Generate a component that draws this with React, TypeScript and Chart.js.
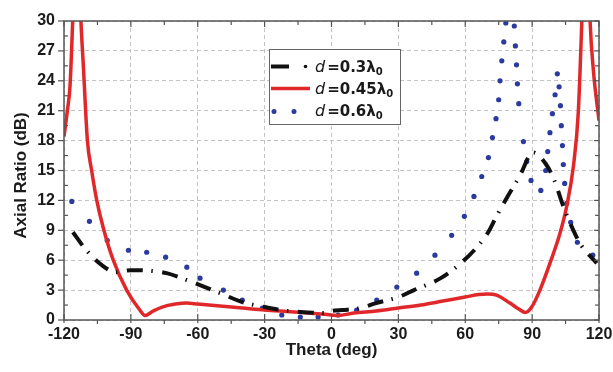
import React, { useEffect, useRef } from "react";
import { Chart, registerables } from "chart.js";
Chart.register(...registerables);

// ---------- data ----------
const thetaTicks = [-120, -90, -60, -30, 0, 30, 60, 90, 120];
const arTicks = [0, 3, 6, 9, 12, 15, 18, 21, 24, 27, 30];
const legendValues = ["0.3", "0.45", "0.6"];
const xTitle = "Theta (deg)";
const yTitle = "Axial Ratio (dB)";

// d = 0.45 lambda0 (red solid)
const redTheta = [-120, -118.5, -117.3, -116.1, -115, -114.3, -113.5, -112.4, -111.3, -109.5, -107.6, -105.3, -102.1, -97.9, -91.9, -86, -83.7, -80, -76, -70, -65, -60, -50, -40, -30, -20, -10, 0, 3, 10, 20, 30, 40, 50, 60, 66, 70, 74, 80, 84, 87, 89.8, 93.5, 98, 102.5, 105.5, 108.5, 110.7, 112.3, 113.3, 114.2, 115.1, 116, 117.5, 120];
const redAR = [18.4, 21, 23.5, 30, 37, 40, 37, 30, 25.4, 18, 15, 12, 9, 6, 3, 1.0, 0.45, 0.9, 1.3, 1.6, 1.7, 1.6, 1.4, 1.2, 1.0, 0.85, 0.7, 0.5, 0.45, 0.7, 0.9, 1.2, 1.5, 1.9, 2.3, 2.55, 2.6, 2.5, 1.7, 1.1, 0.75, 1.3, 3.0, 5.7, 8.7, 11.4, 15.4, 20.8, 30, 37, 40, 37, 30, 25, 20];

// d = 0.3 lambda0 (black dash-dot)
const blackTheta = [-116, -110, -103, -97, -90, -82, -74, -66, -59, -50, -40, -30, -23, -14, -2, 0, 5, 13, 20, 30, 37, 49, 58, 64, 70, 74, 79, 85, 89, 90.5, 96, 100, 104, 108.5, 112, 119];
const blackAR = [8.8, 7.0, 5.5, 4.8, 5.0, 4.95, 4.7, 4.1, 3.5, 2.7, 1.8, 1.3, 1.0, 0.8, 0.7, 0.9, 1.0, 1.2, 1.7, 2.3, 3.0, 4.2, 5.7, 7.0, 8.7, 10.4, 12.4, 14.7, 16.6, 16.8, 15.7, 14.0, 11.4, 9.0, 7.5, 5.7];

// d = 0.6 lambda0 (blue dots)
const blueTheta = [-116.5, -108.6, -100.6, -91.1, -82.9, -74.4, -64.9, -59, -48.5, -40, -31, -22.3, -14, -6, 3, 11.3, 20.3, 29.3, 38.2, 46.4, 53.9, 59.6, 63.9, 67.4, 70.4, 72.2, 73.8, 75, 75.6, 76.4, 77.3, 78.2, 82, 82.5, 83, 83.4, 84, 86.1, 87.6, 89.5, 93.9, 96.1, 97, 98, 99.1, 100.3, 101.3, 102.1, 102.7, 103.1, 103.6, 104, 104.6, 105.5, 107.3, 110.3, 117.2];
const blueAR = [11.9, 9.9, 8.0, 7.0, 6.8, 6.3, 5.3, 4.2, 3.0, 2.0, 1.2, 0.5, 0.3, 0.3, 0.5, 1.0, 2.0, 3.3, 4.7, 6.5, 8.5, 10.4, 12.4, 14.4, 16.3, 18.3, 20.2, 22.1, 24.0, 26.0, 27.9, 29.8, 29.5, 27.5, 25.6, 23.7, 21.7, 17.9, 15.9, 14.0, 13.0, 15.0, 16.9, 18.8, 20.7, 22.6, 24.7, 23.4, 21.5, 19.5, 17.5, 15.6, 13.7, 11.7, 9.8, 7.8, 6.5];

const RED = "#e0282a";
const BLACK = "#111111";
const BLUE = "#2b3a9e";
const TEXT = "#1a1a1a";
const GRID = "#c4c4c4";
const FRAME = "#555555";

const toXY = (xs: number[], ys: number[]) => xs.map((x, i) => ({ x, y: ys[i] }));

const decorPlugin = {
  id: "decor",
  beforeDraw(chart: any) {
    const ctx = chart.ctx;
    ctx.save();
    ctx.fillStyle = "#ffffff";
    ctx.fillRect(0, 0, chart.width, chart.height);
    ctx.restore();
  },
  afterDraw(chart: any) {
    const { ctx, chartArea: a, scales } = chart;
    const xs = scales.x;
    const ys = scales.y;
    ctx.save();
    const seg = (x1: number, y1: number, x2: number, y2: number) => {
      ctx.beginPath();
      ctx.moveTo(x1, y1);
      ctx.lineTo(x2, y2);
      ctx.stroke();
    };
    // frame
    ctx.strokeStyle = FRAME;
    ctx.lineWidth = 1.5;
    ctx.setLineDash([]);
    ctx.strokeRect(a.left, a.top, a.right - a.left, a.bottom - a.top);
    // ticks
    ctx.lineWidth = 1.2;
    for (let i = 0; i < thetaTicks.length; i++) {
      const v = thetaTicks[i];
      const px = xs.getPixelForValue(v);
      seg(px, a.bottom + 3, px, a.bottom - 6);
      seg(px, a.top, px, a.top + 6);
      if (i < thetaTicks.length - 1) {
        const m = xs.getPixelForValue((v + thetaTicks[i + 1]) / 2);
        seg(m, a.bottom + 4, m, a.bottom);
        seg(m, a.top, m, a.top + 4);
      }
    }
    for (let i = 0; i < arTicks.length; i++) {
      const v = arTicks[i];
      const py = ys.getPixelForValue(v);
      seg(a.left - 6, py, a.left, py);
      seg(a.right, py, a.right - 5, py);
      if (i < arTicks.length - 1) {
        const m = ys.getPixelForValue((v + arTicks[i + 1]) / 2);
        seg(a.left, m, a.left + 4, m);
        seg(a.right, m, a.right - 4, m);
      }
    }
    // axis titles
    ctx.fillStyle = TEXT;
    ctx.font = "bold 17px 'Liberation Sans', Arial, sans-serif";
    ctx.textAlign = "center";
    ctx.textBaseline = "alphabetic";
    ctx.fillText(xTitle, (a.left + a.right) / 2, 355);
    ctx.save();
    ctx.translate(25.5, 175.5);
    ctx.rotate(-Math.PI / 2);
    ctx.fillText(yTitle, 0, 0);
    ctx.restore();

    // legend
    const bx = 269, by = 49, bw = 131, bh = 75;
    ctx.fillStyle = "#ffffff";
    ctx.fillRect(bx, by, bw, bh);
    ctx.strokeStyle = "#666666";
    ctx.lineWidth = 1;
    ctx.strokeRect(bx + 0.5, by + 0.5, bw, bh);
    const rows = [66.5, 88.5, 110.5];
    // samples
    ctx.lineCap = "butt";
    ctx.strokeStyle = BLACK;
    ctx.lineWidth = 4;
    seg(271, rows[0], 289, rows[0]);
    ctx.fillStyle = BLACK;
    ctx.beginPath();
    ctx.arc(305.5, rows[0], 1.8, 0, Math.PI * 2);
    ctx.fill();
    ctx.strokeStyle = RED;
    ctx.lineWidth = 3.5;
    seg(271, rows[1], 310, rows[1]);
    ctx.fillStyle = BLUE;
    [274, 294].forEach((cx) => {
      ctx.beginPath();
      ctx.arc(cx, rows[2] + 1, 2.5, 0, Math.PI * 2);
      ctx.fill();
    });
    // labels
    ctx.textAlign = "left";
    ctx.fillStyle = TEXT;
    rows.forEach((cy, i) => {
      const base = cy + 5.5;
      let x = 315;
      ctx.font = "italic 16px 'DejaVu Sans', sans-serif";
      ctx.fillText("d", x, base);
      x += ctx.measureText("d").width + 2;
      ctx.font = "bold 15px 'DejaVu Sans', sans-serif";
      const main = "=" + legendValues[i] + "\u03bb";
      ctx.fillText(main, x, base);
      x += ctx.measureText(main).width;
      ctx.font = "bold 10px 'DejaVu Sans', sans-serif";
      ctx.fillText("0", x, base + 3);
    });
    ctx.restore();
  },
};

export default function App() {
  const ref = useRef<HTMLCanvasElement | null>(null);
  useEffect(() => {
    if (!ref.current) return;
    const tickFont = { family: "'Liberation Sans', Arial, sans-serif", size: 16, weight: "bold" as const };
    const chart = new Chart(ref.current, {
      type: "line",
      data: {
        datasets: [
          {
            label: "d=0.3",
            data: toXY(blackTheta, blackAR),
            borderColor: BLACK,
            borderWidth: 4,
            borderDash: [16, 8.5, 1.5, 9.5],
            borderCapStyle: "butt",
            pointRadius: 0,
            cubicInterpolationMode: "monotone",
            clip: 0,
          },
          {
            label: "d=0.45",
            data: toXY(redTheta, redAR),
            borderColor: RED,
            borderWidth: 3.5,
            pointRadius: 0,
            cubicInterpolationMode: "monotone",
            clip: 0,
          },
          {
            label: "d=0.6",
            data: toXY(blueTheta, blueAR),
            showLine: false,
            pointRadius: 2.6,
            pointBorderWidth: 0,
            pointBackgroundColor: BLUE,
            borderColor: BLUE,
            clip: 0,
          },
        ],
      },
      options: {
        animation: false,
        responsive: false,
        maintainAspectRatio: false,
        layout: { padding: { top: 21, right: 14, left: 0, bottom: 0 } },
        plugins: { legend: { display: false }, tooltip: { enabled: false } },
        scales: {
          x: {
            type: "linear",
            min: -120,
            max: 120,
            afterBuildTicks: (s: any) => {
              s.ticks = thetaTicks.map((v) => ({ value: v }));
            },
            afterFit: (s: any) => {
              s.height = 52;
              s.paddingLeft = 0;
              s.paddingRight = 0;
            },
            ticks: { font: tickFont, color: TEXT, padding: 5, maxRotation: 0, autoSkip: false },
            grid: { color: GRID, lineWidth: 1, drawTicks: false },
            border: { display: false, dash: [4, 3] },
          },
          y: {
            type: "linear",
            min: 0,
            max: 30,
            afterBuildTicks: (s: any) => {
              s.ticks = arTicks.map((v) => ({ value: v }));
            },
            afterFit: (s: any) => {
              s.width = 64;
              s.paddingTop = 0;
              s.paddingBottom = 0;
            },
            ticks: { font: tickFont, color: TEXT, padding: 9, autoSkip: false },
            grid: { color: GRID, lineWidth: 1, drawTicks: false },
            border: { display: false, dash: [4, 3] },
          },
        },
      },
      plugins: [decorPlugin],
    } as any);
    return () => chart.destroy();
  }, []);
  return (
    <div style={{ position: "fixed", left: 0, top: 0, width: 613, height: 372, background: "#fff" }}>
      <canvas ref={ref} width={613} height={372} style={{ display: "block", width: 613, height: 372 }} />
    </div>
  );
}
